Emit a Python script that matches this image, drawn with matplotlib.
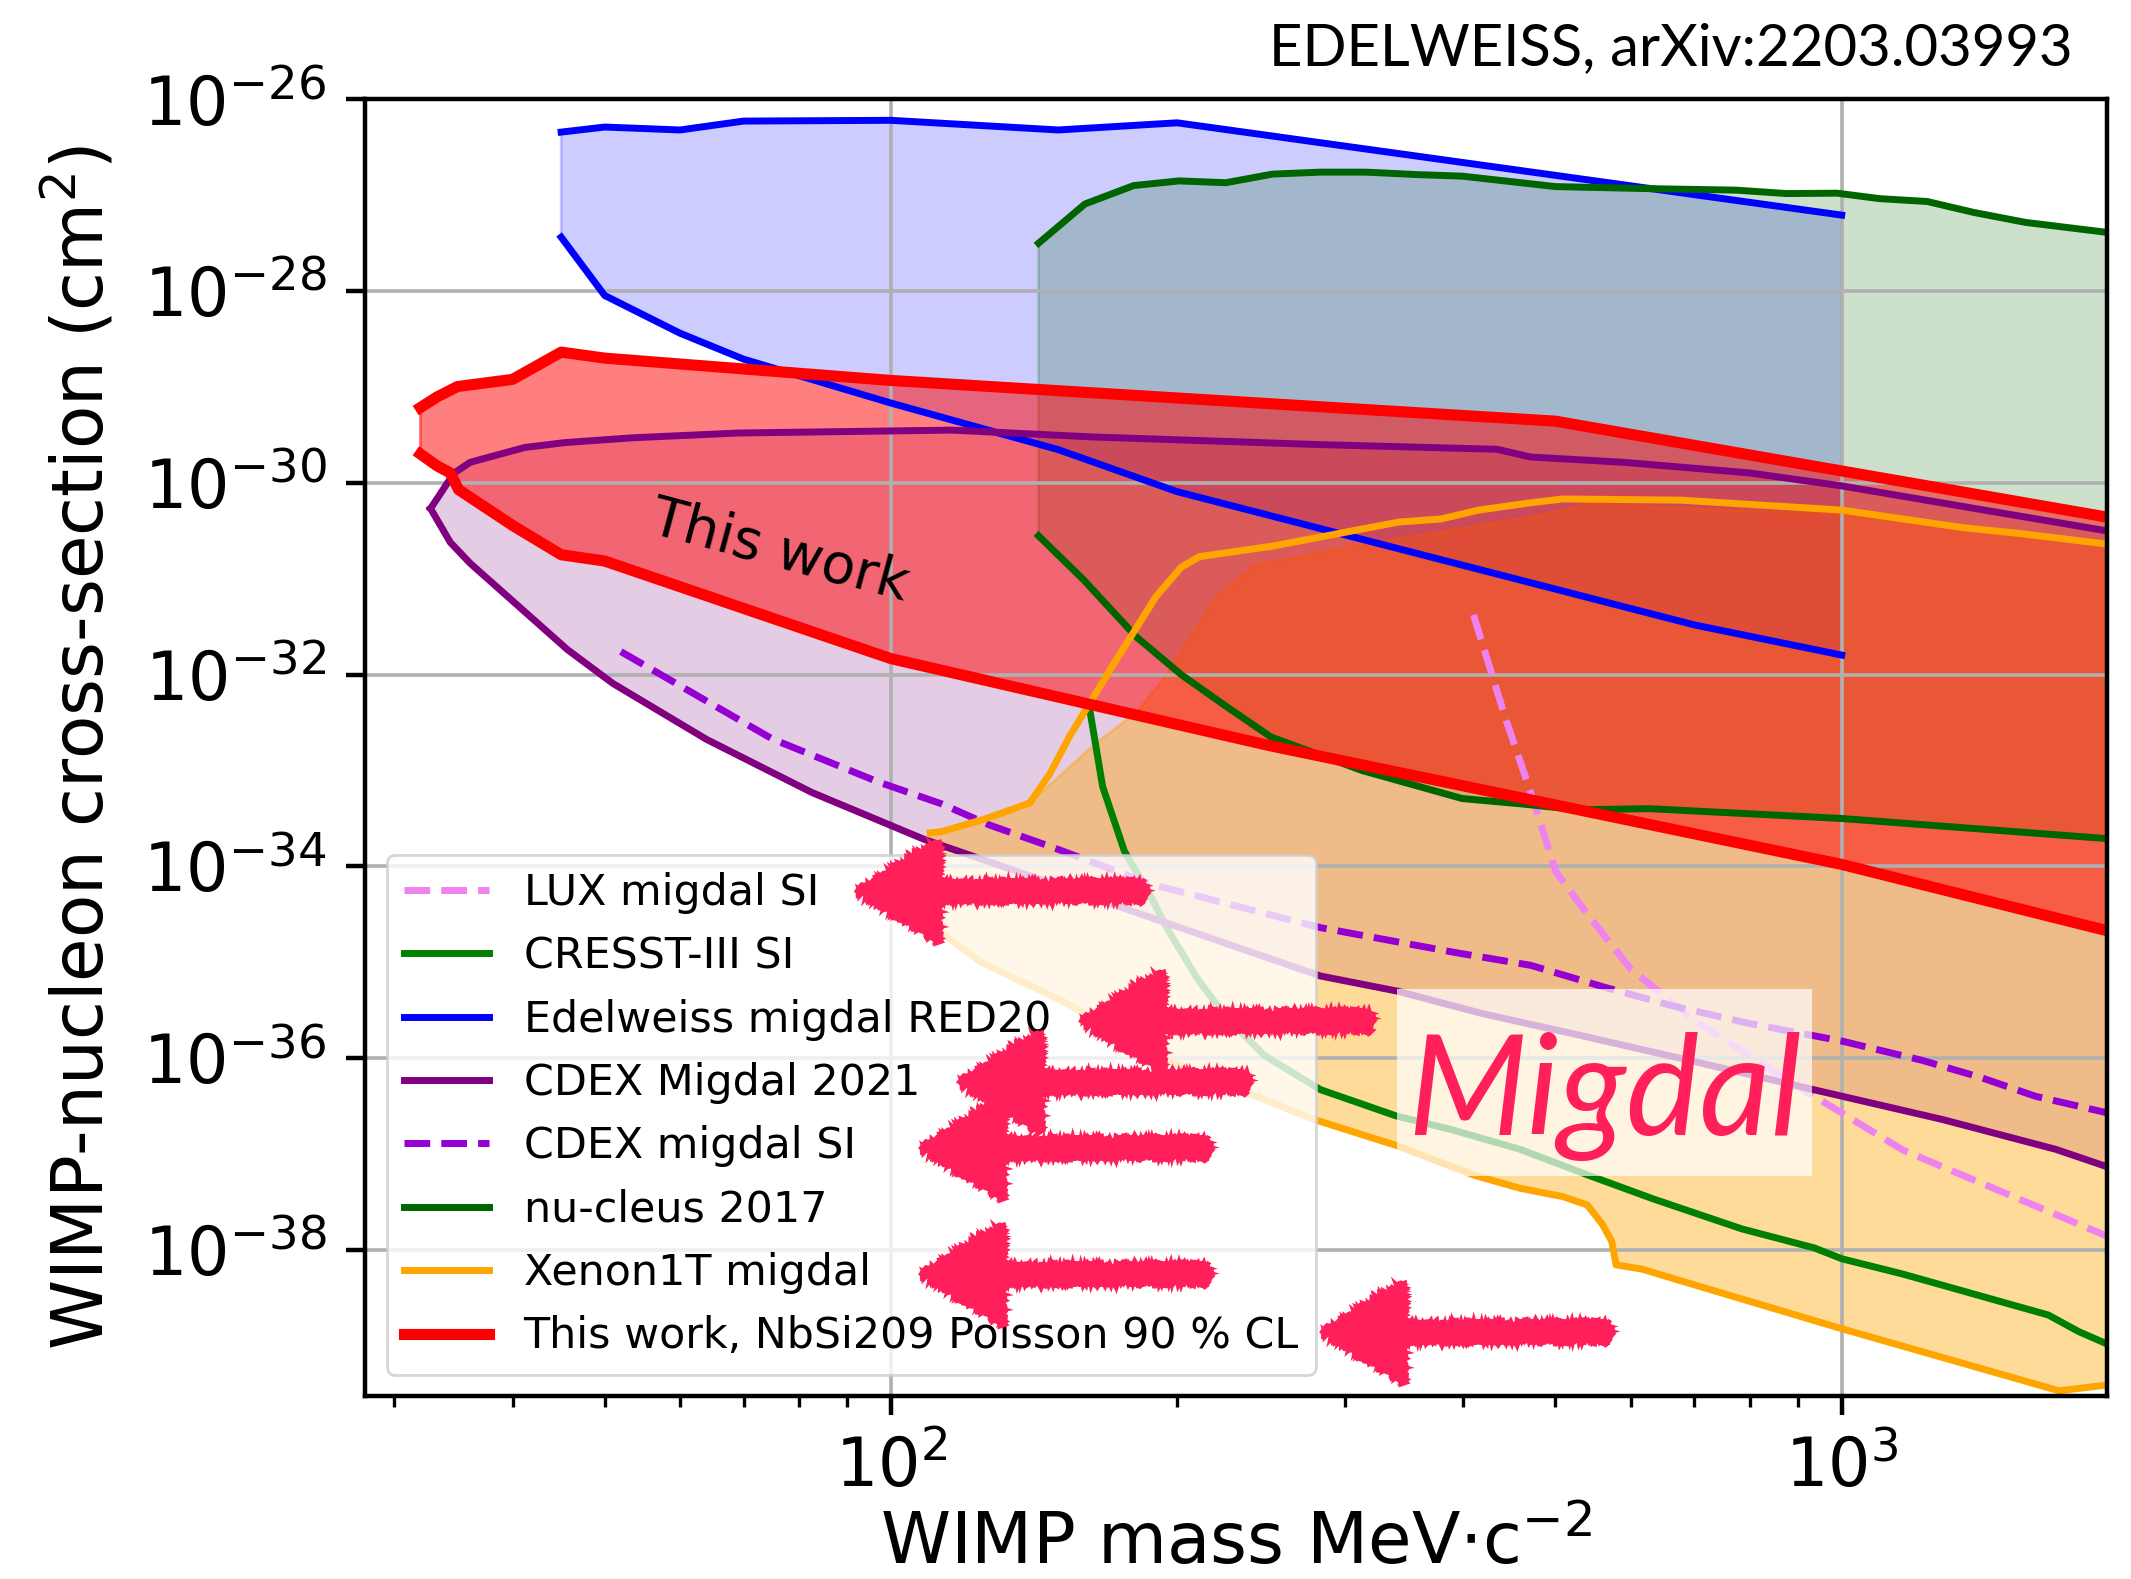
import numpy as np
import matplotlib
matplotlib.use("Agg")
import matplotlib.pyplot as plt
from matplotlib.patches import FancyArrow, Rectangle
from matplotlib.ticker import NullLocator

# masses in MeV/c^2, cross-sections in cm^2
edw_up_m = [45, 50, 60, 70, 100, 150, 200, 1000]
edw_up_s = [4.55e-27, 5.14e-27, 4.79e-27, 5.93e-27, 6.04e-27, 4.79e-27, 5.69e-27, 6.2e-28]
edw_lo_m = [45, 50, 60, 70, 100, 150, 200, 700, 1000]
edw_lo_s = [3.65e-28, 9.0e-29, 3.64e-29, 1.95e-29, 6.8e-30, 2.22e-30, 8.1e-31, 3.3e-32, 1.6e-32]

cdex_up_m = [32.8, 34.7, 36.1, 41.2, 45.4, 53.4, 69, 116, 162, 281, 434, 471, 589, 800, 1000, 1900]
cdex_up_s = [5.4e-31, 1.26e-30, 1.64e-30, 2.34e-30, 2.63e-30, 2.95e-30, 3.31e-30, 3.55e-30,
             3.02e-30, 2.51e-30, 2.24e-30, 1.86e-30, 1.64e-30, 1.27e-30, 9.3e-31, 3.16e-31]
cdex_lo_m = [32.8, 34.4, 36.1, 45.7, 51, 64, 82.6, 108.6, 283, 341, 420, 535, 682, 934, 1275, 1680, 1900]
cdex_lo_s = [5.4e-31, 2.4e-31, 1.45e-31, 1.82e-32, 8.1e-33, 2.11e-33, 5.9e-34, 1.9e-34, 7.2e-36,
             5.0e-36, 2.9e-36, 1.7e-36, 9.8e-37, 4.7e-37, 2.3e-37, 1.12e-37, 7.4e-38]

cdex_si_m = [52, 75, 97, 113, 127, 148, 188, 283, 393, 471, 563, 665, 800, 1000, 1215, 1400, 1600, 1900]
cdex_si_s = [1.74e-32, 2.14e-33, 7.6e-34, 4.5e-34, 2.7e-34, 1.58e-34, 6.5e-35, 2.3e-35, 1.26e-35,
             9.3e-36, 5.5e-36, 3.5e-36, 2.3e-36, 1.51e-36, 9.5e-37, 6.3e-37, 4.0e-37, 2.7e-37]

lux_m = [410, 443, 475, 500, 540, 600, 700, 880, 1160, 1900]
lux_s = [4.2e-32, 3.5e-33, 4.6e-34, 8.9e-35, 3.2e-35, 8.5e-36, 2.5e-36, 5.8e-37, 1.1e-37, 1.4e-38]

nuc_up_m = [143, 160, 180, 201, 225, 252, 283, 316, 358, 399, 500, 628, 774, 875, 989, 1097, 1230, 1378, 1562, 1900]
nuc_up_s = [3.16e-28, 8.1e-28, 1.26e-27, 1.41e-27, 1.35e-27, 1.66e-27, 1.74e-27, 1.74e-27, 1.64e-27,
            1.58e-27, 1.23e-27, 1.17e-27, 1.13e-27, 1.04e-27, 1.05e-27, 9.2e-28, 8.6e-28, 6.6e-28, 5.2e-28, 4.1e-28]
nuc_lo_m = [143, 159.4, 181, 202, 225, 251, 313, 399, 459, 527, 628, 1000, 1900]
nuc_lo_s = [2.8e-31, 9.8e-32, 2.5e-32, 1.0e-32, 4.7e-33, 2.24e-33, 1.0e-33, 5.1e-34, 4.5e-34,
            3.9e-34, 4.0e-34, 3.16e-34, 1.95e-34]

cresst_m = [162, 167, 176, 188, 195, 210, 225, 247, 283, 340, 387, 459, 542, 634, 785, 936, 1000,
            1160, 1434, 1649, 1775, 1900]
cresst_s = [4.1e-33, 6.8e-34, 1.45e-34, 4.7e-35, 2.3e-35, 6.8e-36, 2.7e-36, 1.07e-36, 4.7e-37, 2.5e-37,
            1.82e-37, 1.12e-37, 6.0e-38, 3.4e-38, 1.66e-38, 1.05e-38, 8.1e-39, 5.6e-39, 3.1e-39, 2.1e-39,
            1.41e-39, 1.05e-39]

xe_up_m = [110, 113, 126, 140, 147, 154, 171, 190, 202, 211, 252, 281, 342, 379, 415, 471, 509, 678,
           1000, 1345, 1546, 1900]
xe_up_s = [2.24e-34, 2.3e-34, 3.16e-34, 4.6e-34, 9.3e-34, 2.24e-33, 1.23e-32, 6.5e-32, 1.32e-31, 1.7e-31,
           2.19e-31, 2.69e-31, 3.9e-31, 4.2e-31, 5.2e-31, 6.2e-31, 6.8e-31, 6.6e-31, 5.2e-31, 3.4e-31,
           2.95e-31, 2.3e-31]
xe_fill_m = [110, 126, 140, 164, 181.5, 195, 219, 241, 307, 471, 542, 1000, 1900]
xe_fill_s = [2.24e-34, 3.16e-34, 4.6e-34, 1.9e-33, 4.1e-33, 1.0e-32, 6.2e-32, 1.38e-31, 2.19e-31,
             4.4e-31, 6.0e-31, 4.7e-31, 2.3e-31]
xe_lo_m = [110, 113, 124, 151, 194, 277, 340, 411, 459, 509, 540, 560, 573, 579, 617, 696, 1000, 1693, 1900]
xe_lo_s = [2.19e-35, 2.04e-35, 1.02e-35, 4.0e-36, 9.8e-37, 2.34e-37, 1.23e-37, 6.0e-38, 4.4e-38,
           3.6e-38, 2.95e-38, 1.86e-38, 1.23e-38, 7.0e-39, 6.3e-39, 4.4e-39, 1.51e-39, 3.4e-40, 3.9e-40]

nbsi_up_m = [32, 33.3, 35, 40, 45, 50, 100, 500, 1900]
nbsi_up_s = [6.1e-30, 7.85e-30, 1.01e-29, 1.2e-29, 2.31e-29, 2.0e-29, 1.17e-29, 4.4e-30, 4.4e-31]
nbsi_lo_m = [32, 33.3, 34.4, 35.1, 40, 45, 50, 100, 250, 1000, 1900]
nbsi_lo_s = [2.0e-30, 1.51e-30, 1.27e-30, 8.5e-31, 3.6e-31, 1.78e-31, 1.53e-31, 1.47e-32, 1.82e-33,
             1.05e-34, 2.14e-35]

y_ticks = [1e-26, 1e-28, 1e-30, 1e-32, 1e-34, 1e-36, 1e-38]

# hand drawn arrows: (tip x, tail x, y) in axes fraction
arrows = [(0.2822, 0.4478, 0.3894), (0.4110, 0.5775, 0.2892), (0.3409, 0.5069, 0.2422),
          (0.3191, 0.4845, 0.1913), (0.3191, 0.4845, 0.0941), (0.5494, 0.7147, 0.0494)]

pink = "#ff1f5b"


def band(ax, xu, yu, xl, yl, color, alpha):
    xs = np.concatenate([xu, xl[::-1]])
    ys = np.concatenate([yu, yl[::-1]])
    ax.fill(xs, ys, color=color, alpha=alpha, lw=1.0)


fig = plt.figure(figsize=(2131 / 200, 1579 / 200), dpi=200)
ax = fig.add_axes([0.1714, 0.1159, 0.8172, 0.8212])
ax.set_xscale("log")
ax.set_yscale("log")

# filled exclusion regions
band(ax, edw_up_m, edw_up_s, edw_lo_m, edw_lo_s, "blue", 0.2)
band(ax, cdex_up_m, cdex_up_s, cdex_lo_m, cdex_lo_s, "purple", 0.2)
band(ax, nuc_up_m, nuc_up_s, nuc_lo_m, nuc_lo_s, "darkgreen", 0.2)
band(ax, xe_fill_m, xe_fill_s, xe_lo_m, xe_lo_s, "orange", 0.4)
band(ax, nbsi_up_m, nbsi_up_s, nbsi_lo_m, nbsi_lo_s, "red", 0.5)

lw = 2.5
ax.plot(lux_m, lux_s, "--", color="violet", lw=lw, label="LUX migdal SI")
ax.plot(cresst_m, cresst_s, color="green", lw=lw, label="CRESST-III SI")
ax.plot(edw_up_m, edw_up_s, color="blue", lw=lw, label="Edelweiss migdal RED20")
ax.plot(edw_lo_m, edw_lo_s, color="blue", lw=lw)
ax.plot(cdex_up_m, cdex_up_s, color="purple", lw=lw, label="CDEX Migdal 2021")
ax.plot(cdex_lo_m, cdex_lo_s, color="purple", lw=lw)
ax.plot(cdex_si_m, cdex_si_s, "--", color="darkviolet", lw=lw, label="CDEX migdal SI")
ax.plot(nuc_up_m, nuc_up_s, color="darkgreen", lw=lw, label="nu-cleus 2017")
ax.plot(nuc_lo_m, nuc_lo_s, color="darkgreen", lw=lw)
ax.plot(xe_up_m, xe_up_s, color="orange", lw=lw, label="Xenon1T migdal")
ax.plot(xe_lo_m, xe_lo_s, color="orange", lw=lw)
ax.plot(nbsi_up_m, nbsi_up_s, color="red", lw=4, label="This work, NbSi209 Poisson 90 % CL")
ax.plot(nbsi_lo_m, nbsi_lo_s, color="red", lw=4)

ax.set_xlim(28, 1900)
ax.set_ylim(3e-40, 1e-26)
ax.set_yticks(y_ticks)
ax.yaxis.set_minor_locator(NullLocator())
ax.grid(True, which="major", color="#b0b0b0", lw=1.3)
ax.tick_params(which="major", labelsize=24, length=7, width=1.6, pad=7)
ax.tick_params(which="minor", length=4, width=1.2)
for sp in ax.spines.values():
    sp.set_linewidth(1.6)

ax.set_xlabel(r"WIMP mass MeV$\cdot$c$^{-2}$", fontsize=25.5, labelpad=3)
ax.set_ylabel(r"WIMP-nucleon cross-section (cm$^2$)", fontsize=25.5, labelpad=9)

ax.text(0.2379, 0.6508, "This work", transform=ax.transAxes, fontsize=20,
        rotation=-15, ha="center", va="center", rotation_mode="anchor")

ax.legend(loc="lower left", fontsize=15.4)

# Migdal label on a translucent box
ax.add_patch(Rectangle((0.5925, 0.1697), 0.2383, 0.1442, transform=ax.transAxes,
                       facecolor="white", edgecolor="none", alpha=0.7, zorder=4))
ax.text(0.7116, 0.2013, "Migdal", transform=ax.transAxes, fontsize=50, color=pink,
        family="Lato", style="italic", ha="center", va="baseline", zorder=4.5)

for tip, tail, y in arrows:
    arr = FancyArrow(tail, y, tip - tail, 0, width=0.0147, head_width=0.0779,
                     head_length=0.047, length_includes_head=True,
                     transform=ax.transAxes, color=pink, lw=1.5, zorder=6)
    arr.set_sketch_params(scale=3, length=3, randomness=3)
    ax.add_patch(arr)

fig.text(0.9728, 0.9588, "EDELWEISS, arXiv:2203.03993", family="Lato", fontsize=20.9,
         ha="right", va="baseline")

fig.savefig("out.png", dpi=200)
